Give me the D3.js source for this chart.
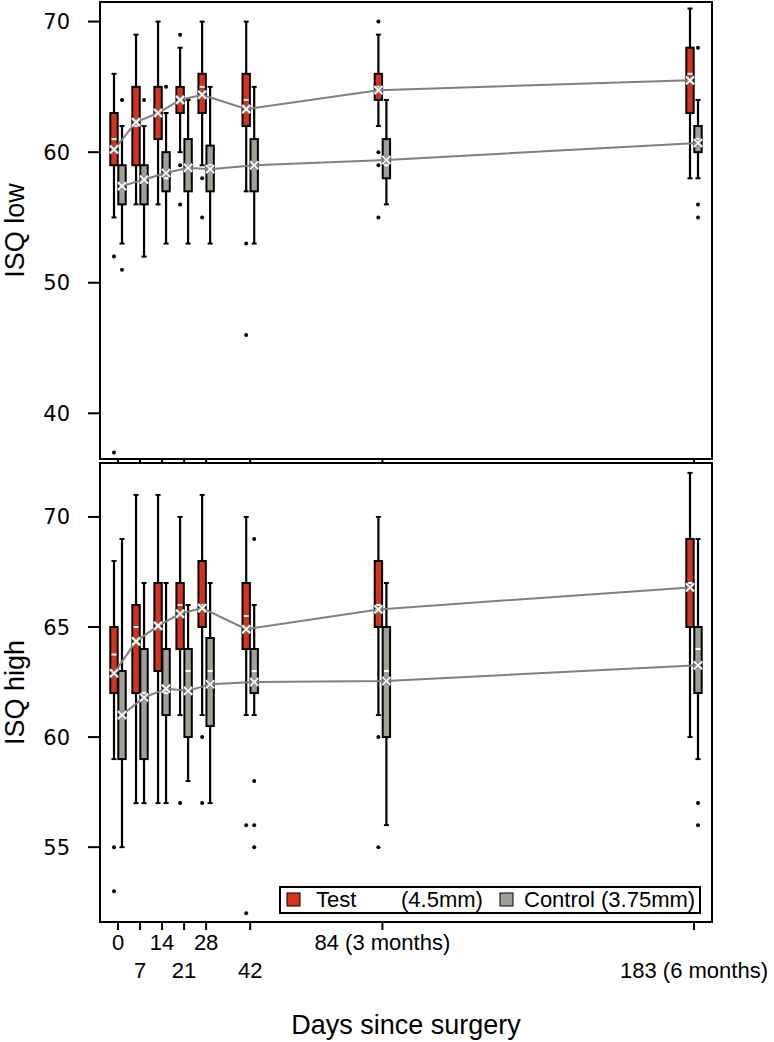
<!DOCTYPE html>
<html>
<head>
<meta charset="utf-8">
<script src="https://cdn.jsdelivr.net/npm/d3@7"></script>
<style>
  body { margin: 0; background: #fff; }
  svg { display: block; }
  text { font-family: "Liberation Sans", Arial, sans-serif; fill: #000; }
</style>
</head>
<body>
<div id="chart"></div>
<script>
// days of measurement and their labels
var days = [0, 7, 14, 21, 28, 42, 84, 183];
var dayLabels = ["0", "7", "14", "21", "28", "42", "84 (3 months)", "183 (6 months)"];
var dayRow = [0, 1, 0, 1, 0, 1, 0, 1];

// ISQ low - Test (4.5mm)
var lowTestLo = [55, 56, 56, 60, 59, 57, 62, 58];
var lowTestQ1 = [59, 59, 61, 63, 63, 62, 64, 63];
var lowTestMed = [61, 62, 63, 64, 65, 64, 65, 66];
var lowTestQ3 = [63, 65, 65, 65, 66, 66, 66, 68];
var lowTestHi = [66, 69, 70, 68, 70, 70, 69, 71];
var lowTestMean = [60.2, 62.3, 63.0, 64.0, 64.4, 63.3, 64.75, 65.5];
var lowTestOut = [[52, 37], [], [], [69, 59, 56], [58, 55], [53, 46], [70, 60, 59, 55], []];

// ISQ low - Control (3.75mm)
var lowCtrlLo = [53, 52, 53, 53, 53, 53, 56, 58];
var lowCtrlQ1 = [56, 56, 57, 57, 57, 57, 58, 60];
var lowCtrlMed = [57.5, 58, 58, 59, 59, 59, 59, 61];
var lowCtrlQ3 = [59, 59, 60, 61, 60.5, 61, 61, 62];
var lowCtrlHi = [62, 62, 63, 64, 65, 65, 64, 64];
var lowCtrlMean = [57.4, 57.9, 58.4, 58.8, 58.7, 59.0, 59.4, 60.7];
var lowCtrlOut = [[64, 51], [64], [65], [], [], [], [], [68, 56, 55]];

// ISQ high - Test (4.5mm)
var highTestLo = [59, 57, 57, 61, 61, 61, 61, 60];
var highTestQ1 = [62, 62, 63, 64, 65, 64, 65, 65];
var highTestMed = [63.75, 65, 65, 66, 66, 65.5, 66, 67];
var highTestQ3 = [65, 66, 67, 67, 68, 67, 68, 69];
var highTestHi = [68, 71, 71, 70, 71, 70, 70, 72];
var highTestMean = [62.9, 64.35, 65.05, 65.6, 65.86, 64.9, 65.8, 66.8];
var highTestOut = [[55, 53], [], [], [57], [60, 57], [56, 52], [60, 55], []];

// ISQ high - Control (3.75mm)
var highCtrlLo = [55, 57, 57, 58, 57, 61, 56, 59];
var highCtrlQ1 = [59, 59, 61, 60, 60.5, 62, 60, 62];
var highCtrlMed = [61, 62, 62, 63, 63, 63, 63, 64];
var highCtrlQ3 = [63, 64, 64, 64, 64.5, 64, 65, 65];
var highCtrlHi = [69, 67, 67, 66, 67, 66, 67, 69];
var highCtrlMean = [61.0, 61.8, 62.2, 62.1, 62.4, 62.5, 62.55, 63.26];
var highCtrlOut = [[], [], [], [], [], [69, 58, 56, 55], [], [57, 56]];

var lowTicks = [40, 50, 60, 70];
var highTicks = [55, 60, 65, 70];

var TEST_COL = "#d8321a", CTRL_COL = "#a29f96", MEAN_COL = "#808080";

var W = 774, H = 1042, L = 100, R = 712;
var svg = d3.select("#chart").append("svg").attr("width", W).attr("height", H);

var x = d3.scaleLinear().domain([0, 183]).range([118, 694]);

function group(lo, q1, med, q3, hi, mean, out) {
    return days.map(function(d, i) {
        return { day: d, lo: lo[i], q1: q1[i], med: med[i], q3: q3[i], hi: hi[i], mean: mean[i], out: out[i] };
    });
}

function drawPanel(top, bottom, yDomain, ticks, title, test, ctrl, showAxis) {
    var y = d3.scaleLinear().domain(yDomain).range([bottom, top]);
    var g = svg.append("g");

    // y axis ticks + labels
    g.selectAll("line.ytick").data(ticks).join("line").attr("class", "ytick")
        .attr("x1", 88).attr("x2", L).attr("y1", function(d) { return y(d); }).attr("y2", function(d) { return y(d); })
        .attr("stroke", "#000").attr("stroke-width", 2);
    g.selectAll("text.ylab").data(ticks).join("text").attr("class", "ylab")
        .attr("x", 70).attr("y", function(d) { return y(d); }).attr("dy", "0.36em")
        .attr("text-anchor", "end").style("font-family", "'DejaVu Sans', sans-serif").style("font-size", "21px")
        .text(function(d) { return d; });
    g.append("text").attr("transform", "translate(24," + ((top + bottom) / 2) + ") rotate(-90)")
        .attr("text-anchor", "middle").style("font-size", "27px").text(title);

    // x tick marks
    g.selectAll("line.xtick").data(days).join("line").attr("class", "xtick")
        .attr("x1", function(d) { return x(d); }).attr("x2", function(d) { return x(d); })
        .attr("y1", bottom).attr("y2", bottom + (showAxis ? 8 : 3))
        .attr("stroke", "#000").attr("stroke-width", 2);

    function boxes(data, dx, fill) {
        var b = g.append("g");
        var it = b.selectAll("g").data(data).join("g");
        it.append("line").attr("x1", function(d) { return x(d.day) + dx; }).attr("x2", function(d) { return x(d.day) + dx; })
            .attr("y1", function(d) { return y(d.lo); }).attr("y2", function(d) { return y(d.hi); })
            .attr("stroke", "#000").attr("stroke-width", 2.2);
        [["lo"], ["hi"]].forEach(function(k) {
            it.append("line").attr("x1", function(d) { return x(d.day) + dx - 2.5; }).attr("x2", function(d) { return x(d.day) + dx + 2.5; })
                .attr("y1", function(d) { return y(d[k[0]]); }).attr("y2", function(d) { return y(d[k[0]]); })
                .attr("stroke", "#000").attr("stroke-width", 2);
        });
        it.append("rect").attr("x", function(d) { return x(d.day) + dx - 3.7; }).attr("width", 7.4)
            .attr("y", function(d) { return y(d.q3); }).attr("height", function(d) { return y(d.q1) - y(d.q3); })
            .attr("fill", fill).attr("stroke", "#000").attr("stroke-width", 2);
        it.selectAll("circle").data(function(d) { return d.out.map(function(v) { return { day: d.day, v: v }; }); })
            .join("circle").attr("cx", function(d) { return x(d.day) + dx; }).attr("cy", function(d) { return y(d.v); })
            .attr("r", 2).attr("fill", "#000");
    }
    boxes(test, -4, TEST_COL);
    boxes(ctrl, 4, CTRL_COL);

    var line = d3.line();
    [[test, -4], [ctrl, 4]].forEach(function(s) {
        g.append("path").attr("d", line(s[0].map(function(d) { return [x(d.day) + s[1], y(d.mean)]; })))
            .attr("fill", "none").attr("stroke", MEAN_COL).attr("stroke-width", 2);
    });

    // medians and mean crosses
    [[test, -4], [ctrl, 4]].forEach(function(s) {
        var dx = s[1];
        g.selectAll(null).data(s[0]).join("line")
            .attr("x1", function(d) { return x(d.day) + dx - 2.5; }).attr("x2", function(d) { return x(d.day) + dx + 2.5; })
            .attr("y1", function(d) { return y(d.med); }).attr("y2", function(d) { return y(d.med); })
            .attr("stroke", "#fff").attr("stroke-width", 2);
        var mk = g.selectAll(null).data(s[0]).join("g")
            .attr("transform", function(d) { return "translate(" + (x(d.day) + dx) + "," + y(d.mean) + ")"; });
        [["#8a8a8a", 3.4], ["#fff", 1.6]].forEach(function(st) {
            mk.append("path").attr("d", "M-4,-4L4,4M-4,4L4,-4")
                .attr("stroke", st[0]).attr("stroke-width", st[1]).attr("fill", "none");
        });
    });

    g.append("rect").attr("x", L).attr("y", top).attr("width", R - L).attr("height", bottom - top)
        .attr("fill", "none").attr("stroke", "#000").attr("stroke-width", 2);
    return g;
}

drawPanel(2, 459, [36.5, 71.5], lowTicks, "ISQ low",
    group(lowTestLo, lowTestQ1, lowTestMed, lowTestQ3, lowTestHi, lowTestMean, lowTestOut),
    group(lowCtrlLo, lowCtrlQ1, lowCtrlMed, lowCtrlQ3, lowCtrlHi, lowCtrlMean, lowCtrlOut), false);

drawPanel(463, 922, [51.6, 72.45], highTicks, "ISQ high",
    group(highTestLo, highTestQ1, highTestMed, highTestQ3, highTestHi, highTestMean, highTestOut),
    group(highCtrlLo, highCtrlQ1, highCtrlMed, highCtrlQ3, highCtrlHi, highCtrlMean, highCtrlOut), true);

// legend
var lg = svg.append("g");
lg.append("rect").attr("x", 280).attr("y", 887).attr("width", 420).attr("height", 26)
    .attr("fill", "#fff").attr("stroke", "#000").attr("stroke-width", 2);
lg.append("rect").attr("x", 287).attr("y", 893).attr("width", 13).attr("height", 13).attr("fill", TEST_COL).attr("stroke", "#000");
lg.append("rect").attr("x", 500).attr("y", 893).attr("width", 13).attr("height", 13).attr("fill", CTRL_COL).attr("stroke", "#000");
lg.append("text").attr("x", 316).attr("y", 907).style("font-size", "22px").text("Test");
lg.append("text").attr("x", 401).attr("y", 907).style("font-size", "22px").text("(4.5mm)");
lg.append("text").attr("x", 524).attr("y", 907).style("font-size", "22px").text("Control (3.75mm)");

// x labels
svg.selectAll("text.xlab").data(days).join("text").attr("class", "xlab")
    .attr("x", function(d) { return x(d); })
    .attr("y", function(d, i) { return dayRow[i] ? 978 : 950; })
    .attr("text-anchor", "middle").style("font-size", "22px")
    .text(function(d, i) { return dayLabels[i]; });
svg.append("text").attr("x", 406).attr("y", 1034).attr("text-anchor", "middle").style("font-size", "27px")
    .text("Days since surgery");
</script>
</body>
</html>
